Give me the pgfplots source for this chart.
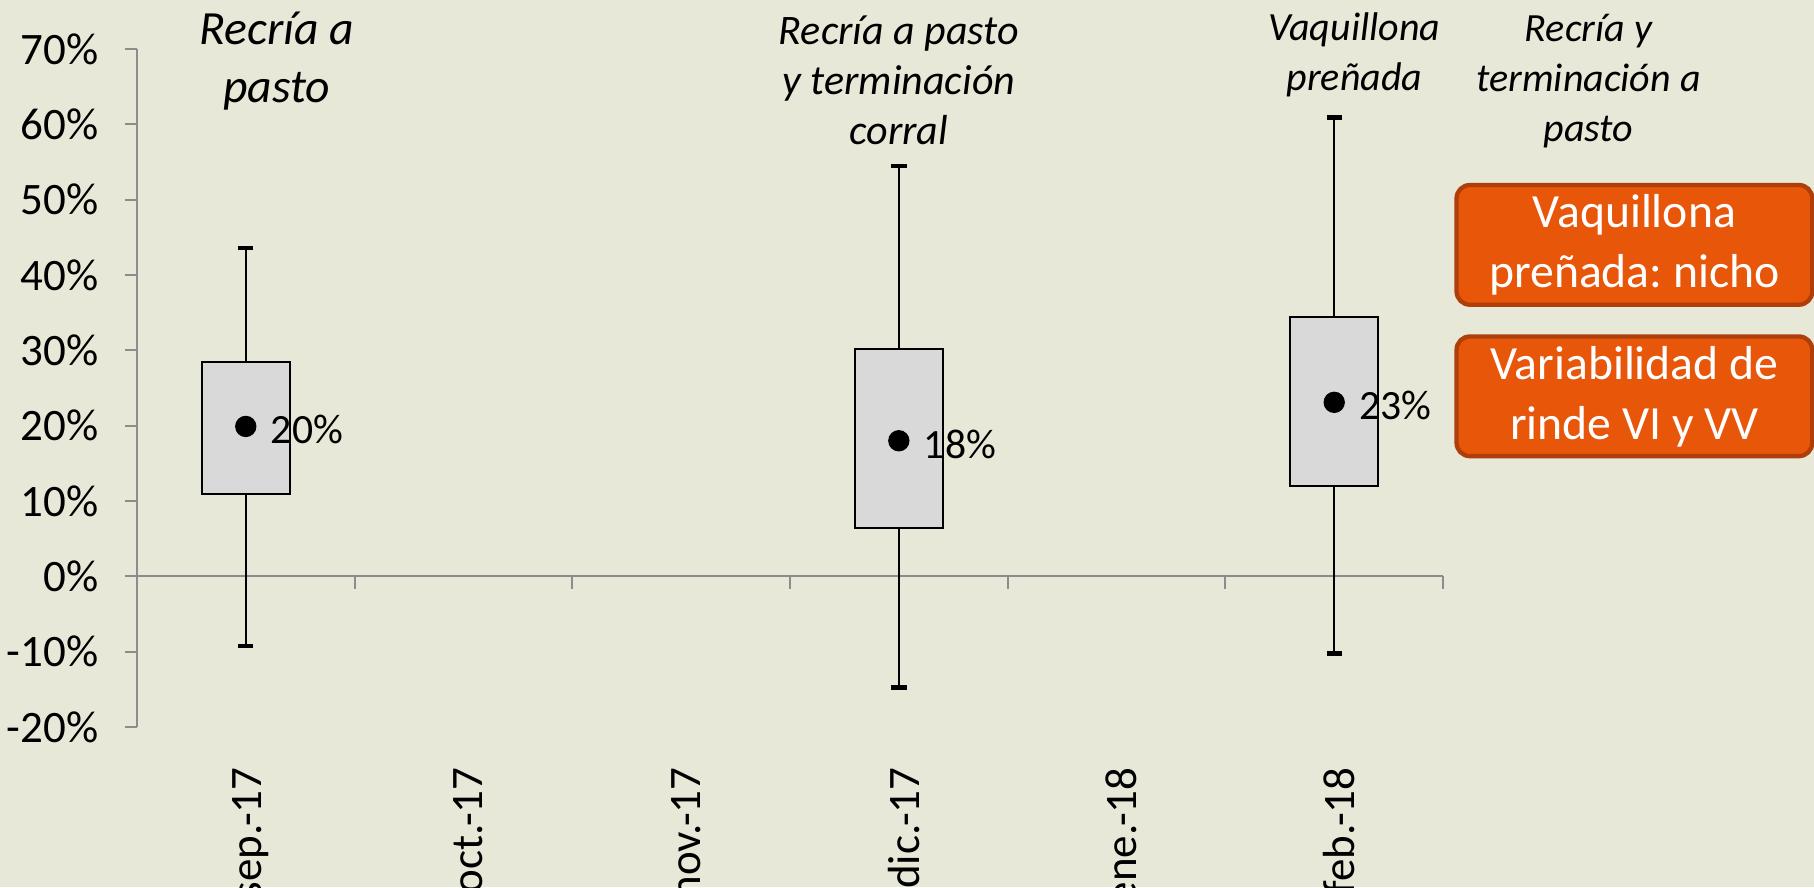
\documentclass[border=0pt]{standalone}
\usepackage{fontspec}
\setmainfont{Carlito}
\usepackage{pgfplots}
\pgfplotsset{compat=1.18}
\usepgfplotslibrary{statistics}
\usetikzlibrary{backgrounds}

\definecolor{bgcolor}{HTML}{E8E8D8}
\definecolor{axisgray}{HTML}{8C8C8C}
\definecolor{boxgray}{HTML}{D9D9D9}
\definecolor{orangefill}{HTML}{E8560A}
\definecolor{orangedark}{HTML}{AF3F0A}

\begin{document}
\begin{tikzpicture}
\begin{axis}[
    scale only axis, width=391.8pt, height=203.4pt,
    xmin=0.5, xmax=6.5, ymin=-20, ymax=70,
    clip=false,
    axis y line*=left, axis x line*=bottom,
    x axis line style={draw=none},
    y axis line style={draw=axisgray, line width=0.6pt},
    ytick={-20,-10,...,70},
    yticklabels={-20\%,-10\%,0\%,10\%,20\%,30\%,40\%,50\%,60\%,70\%},
    ytick style={draw=axisgray, line width=0.6pt},
    tick align=outside, major tick length=3.6pt,
    xtick={1,...,6},
    xticklabels={sep.-17,oct.-17,nov.-17,dic.-17,ene.-18,feb.-18},
    xtick style={draw=none},
    tick label style={font=\fontsize{13.5}{15}\selectfont},
    xticklabel style={xshift=1.5pt, yshift=-5pt, rotate=90, anchor=east},
    yticklabel style={xshift=-4.4pt},
    boxplot/draw direction=y,
    boxplot/every box/.style={draw=black, fill=boxgray, line width=0.6pt},
    boxplot/every whisker/.style={draw=black, line width=0.7pt},
    boxplot/every median/.style={draw=none},
]
% zero line with category ticks
\draw[axisgray, line width=0.6pt] (axis cs:0.5,0) -- (axis cs:6.5,0);
\pgfplotsinvokeforeach{1.5,2.5,3.5,4.5,5.5,6.5}{
    \draw[axisgray, line width=0.6pt] (axis cs:#1,0) -- ([yshift=-3.9pt]axis cs:#1,0);
}

\addplot[black, boxplot prepared={draw position=1, lower whisker=-9.25,
    lower quartile=10.9, median=10.9, upper quartile=28.45,
    upper whisker=43.6, box extend=0.404, whisker extend=0.07}]
    coordinates {};
\addplot[black, boxplot prepared={draw position=4, lower whisker=-14.75,
    lower quartile=6.4, median=6.4, upper quartile=30.15,
    upper whisker=54.5, box extend=0.404, whisker extend=0.07}]
    coordinates {};
\addplot[black, boxplot prepared={draw position=6, lower whisker=-10.25,
    lower quartile=12.0, median=12.0, upper quartile=34.45,
    upper whisker=60.9, box extend=0.404, whisker extend=0.07}]
    coordinates {};

% whisker caps
\addplot[only marks, black, mark=-, mark size=2.3pt,
    mark options={line width=1.3pt}]
    coordinates {(1,43.6) (1,-9.25) (4,54.5) (4,-14.75) (6,60.9) (6,-10.25)};

% averages
\addplot[only marks, mark=*, mark size=3pt, black,
    nodes near coords, point meta=explicit symbolic,
    every node near coord/.append style={anchor=west, xshift=4pt,
        yshift=-1pt, font=\fontsize{12.5}{15}\selectfont}]
    coordinates {(1,19.9)[20\%] (4,18.0)[18\%] (6,23.1)[23\%]};

% headers
\node[font=\fontsize{14.3}{17.4}\selectfont\itshape, align=center]
    at (axis cs:1.143,68.4) {Recría a\\pasto};
\node[font=\fontsize{12.6}{15}\selectfont\itshape, align=center]
    at (axis cs:4.0,65.9) {Recría a pasto\\y terminación\\corral};
\node[font=\fontsize{12}{15}\selectfont\itshape, align=center]
    at (axis cs:6.093,69.2) {Vaquillona\\preñada};
\node[font=\fontsize{12}{15}\selectfont\itshape, align=center]
    at (axis cs:7.168,65.75) {Recría y\\terminación a\\pasto};

% notes
\node[draw=orangedark, line width=1.3pt, fill=orangefill, rounded corners=4pt,
    minimum width=106.7pt, minimum height=35.9pt, inner sep=0pt,
    text=white, align=center, font=\fontsize{14.3}{18}\selectfont]
    at (axis cs:7.379,44.0) {Vaquillona\\preñada:\ nicho};
\node[draw=orangedark, line width=1.3pt, fill=orangefill, rounded corners=4pt,
    minimum width=106.7pt, minimum height=35.9pt, inner sep=0pt,
    text=white, align=center, font=\fontsize{14.3}{18}\selectfont]
    at (axis cs:7.379,23.9) {Variabilidad de\\rinde VI y VV};

\coordinate (bbA) at (axis cs:-0.129,76.5);
\coordinate (bbB) at (axis cs:8.204,-41.24);
\end{axis}
\begin{scope}[on background layer]
    \fill[bgcolor] (bbA) rectangle (bbB);
\end{scope}
\pgfresetboundingbox
\useasboundingbox (bbA) rectangle (bbB);
\end{tikzpicture}
\end{document}
